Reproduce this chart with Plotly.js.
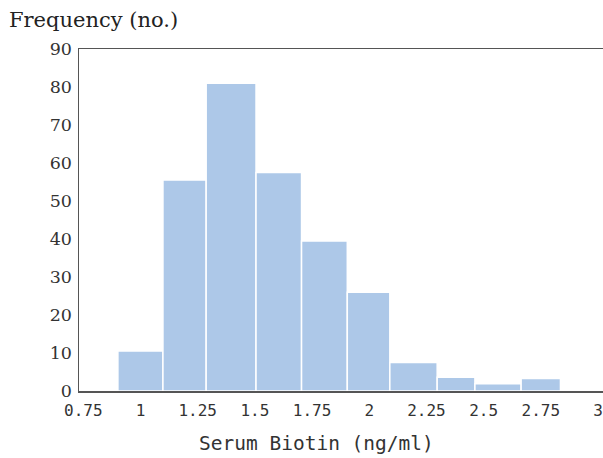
<!DOCTYPE html>
<html>
<head>
<meta charset="utf-8">
<script src="https://cdn.plot.ly/plotly-3.0.1.min.js"></script>
<style>html,body{margin:0;padding:0;background:#fff;}#chart{width:603px;height:458px;}</style>
</head>
<body>
<div id="chart"></div>
<script>
// Histogram bins (ng/ml) and frequencies
var binStart = [0.901, 1.098, 1.287, 1.505, 1.704, 1.904, 2.090, 2.297, 2.462, 2.664];
var binEnd   = [1.098, 1.287, 1.505, 1.704, 1.904, 2.090, 2.297, 2.462, 2.664, 2.836];
var frequency = [10.5, 55.5, 81, 57.5, 39.5, 26, 7.5, 3.6, 1.9, 3.3];
var xTickVals = [0.75, 1, 1.25, 1.5, 1.75, 2, 2.25, 2.5, 2.75, 3];
var xTickText = ["0.75", "1", "1.25", "1.5", "1.75", "2", "2.25", "2.5", "2.75", "3"];
var yTickVals = [0, 10, 20, 30, 40, 50, 60, 70, 80, 90];

var centers = binStart.map(function (s, i) { return (s + binEnd[i]) / 2; });
var widths = binStart.map(function (s, i) { return binEnd[i] - s; });

var trace = {
  type: 'bar',
  x: centers,
  y: frequency,
  width: widths,
  marker: { color: '#adc8e8', line: { color: '#ffffff', width: 1.5 } },
  hoverinfo: 'x+y'
};

var layout = {
  width: 603, height: 458,
  margin: { l: 79, r: 0, t: 49, b: 67, pad: 0 },
  paper_bgcolor: '#ffffff', plot_bgcolor: '#ffffff',
  showlegend: false,
  bargap: 0,
  title: {
    text: 'Frequency (no.)',
    font: { family: 'DejaVu Serif', size: 21, color: '#222' },
    x: 9 / 603, xanchor: 'left', xref: 'container',
    y: 1 - 20 / 458, yanchor: 'middle', yref: 'container'
  },
  xaxis: {
    range: [0.731, 3.022],
    tickmode: 'array', tickvals: xTickVals, ticktext: xTickText,
    showgrid: false, zeroline: false,
    showline: true, linecolor: '#555', linewidth: 1.5, mirror: true,
    ticks: '', ticklabelstandoff: 4,
    tickfont: { family: 'DejaVu Sans Mono', size: 16, color: '#333' }
  },
  yaxis: {
    range: [0, 90],
    tickmode: 'array', tickvals: yTickVals,
    showgrid: false, zeroline: false,
    showline: true, linecolor: '#555', linewidth: 1.5,
    ticks: '', ticklabelstandoff: 2,
    tickfont: { family: 'DejaVu Serif', size: 17.5, color: '#333' }
  },
  annotations: [{
    text: 'Serum Biotin (ng/ml)',
    xref: 'paper', yref: 'paper',
    x: (316 - 79) / (603 - 79), y: 0,
    xanchor: 'center', yanchor: 'middle',
    yshift: -52, showarrow: false,
    font: { family: 'DejaVu Sans Mono', size: 19.5, color: '#333' }
  }]
};

Plotly.newPlot('chart', [trace], layout, { displayModeBar: false, staticPlot: true });
</script>
</body>
</html>
